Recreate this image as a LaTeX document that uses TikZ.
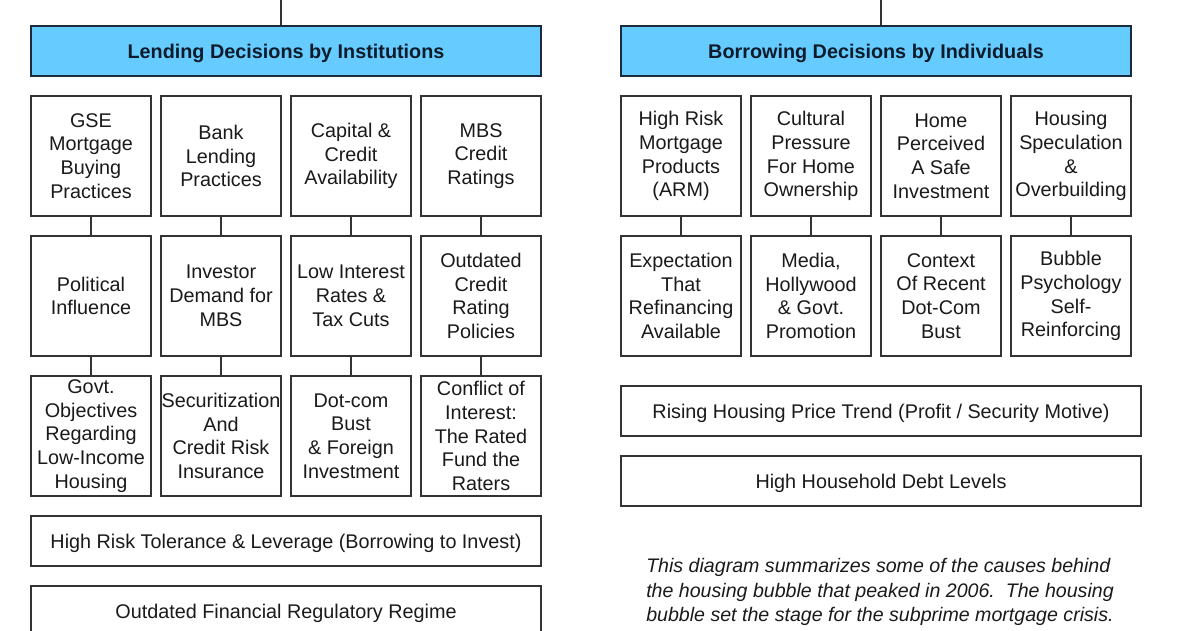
\documentclass[tikz,border=0pt]{standalone}
\usepackage{fontspec}
\setmainfont{Liberation Sans}
\definecolor{hdrfill}{HTML}{66CCFF}
\definecolor{hdrline}{HTML}{1C2B3A}
\definecolor{hdrtext}{HTML}{0D1B2A}
\definecolor{boxline}{HTML}{333333}
\definecolor{txt}{HTML}{1A1A1A}
\begin{document}
\begin{tikzpicture}[x=1pt,y=-1pt,
  cell/.style={draw=boxline,line width=1.3pt,fill=white,minimum width=120pt,minimum height=120pt,inner sep=0pt,align=center,text=txt,font=\fontsize{19.8}{23.8}\selectfont},
  wide/.style={draw=boxline,line width=1.3pt,fill=white,minimum height=50pt,inner sep=0pt,align=center,text=txt,text height=14.2pt,text depth=0pt,font=\fontsize{19.8}{23.8}\selectfont},
  hdr/.style={draw=hdrline,line width=1.3pt,fill=hdrfill,minimum width=510pt,minimum height=50pt,inner sep=0pt,text=hdrtext,text height=14.2pt,text depth=0pt,font=\fontsize{19.8}{23}\selectfont\bfseries},
  link/.style={draw=boxline,line width=1.2pt}]
\useasboundingbox (0,0) rectangle (1200,630);
% headers
\node[hdr] (hL) at (286,51) {Lending Decisions by Institutions};
\node[hdr] (hR) at (876,51) {Borrowing Decisions by Individuals};
\coordinate (tL) at (281,0);
\coordinate (tR) at (881,0);
\draw[link] (tL) -- (tL |- hL.north);
\draw[link] (tR) -- (tR |- hR.north);
% left grid
\node[cell] (a1) at (91,156) {GSE\\Mortgage\\Buying\\Practices};
\node[cell] (b1) at (221,156) {Bank\\Lending\\Practices};
\node[cell] (c1) at (351,156) {Capital \&\\Credit\\Availability};
\node[cell] (d1) at (481,156) {MBS\\Credit\\Ratings};
\node[cell] (a2) at (91,296) {Political\\Influence};
\node[cell] (b2) at (221,296) {Investor\\Demand for\\MBS};
\node[cell] (c2) at (351,296) {Low Interest\\Rates \&\\Tax Cuts};
\node[cell] (d2) at (481,296) {Outdated\\Credit\\Rating\\Policies};
\node[cell] (a3) at (91,436) {Govt.\\Objectives\\Regarding\\Low-Income\\Housing};
\node[cell] (b3) at (221,436) {Securitization\\And\\Credit Risk\\Insurance};
\node[cell] (c3) at (351,436) {Dot-com\\Bust\\\& Foreign\\Investment};
\node[cell] (d3) at (481,436) {Conflict of\\Interest:\\The Rated\\Fund the\\Raters};
\foreach \c in {a,b,c,d}{
  \draw[link] (\c1.south) -- (\c2.north);
  \draw[link] (\c2.south) -- (\c3.north);
}
\node[wide,minimum width=510pt] (w1) at (286,541) {High Risk Tolerance \& Leverage (Borrowing to Invest)};
\node[wide,minimum width=510pt] (w2) at (286,611) {Outdated Financial Regulatory Regime};
% right grid
\node[cell] (e1) at (681,156) {High Risk\\Mortgage\\Products\\(ARM)};
\node[cell] (f1) at (811,156) {Cultural\\Pressure\\For Home\\Ownership};
\node[cell] (g1) at (941,156) {Home\\Perceived\\A Safe\\Investment};
\node[cell] (h1) at (1071,156) {Housing\\Speculation\\\&\\Overbuilding};
\node[cell] (e2) at (681,296) {Expectation\\That\\Refinancing\\Available};
\node[cell] (f2) at (811,296) {Media,\\Hollywood\\\& Govt.\\Promotion};
\node[cell] (g2) at (941,296) {Context\\Of Recent\\Dot-Com\\Bust};
\node[cell] (h2) at (1071,296) {Bubble\\Psychology\\Self-\\Reinforcing};
\foreach \c in {e,f,g,h}{
  \draw[link] (\c1.south) -- (\c2.north);
}
\node[wide,minimum width=520pt] (w3) at (881,411) {Rising Housing Price Trend (Profit / Security Motive)};
\node[wide,minimum width=520pt] (w4) at (881,481) {High Household Debt Levels};
\node[align=left,text=txt,inner sep=0pt,font=\fontsize{19.6}{24.5}\selectfont\itshape] (note) at (880,592) {This diagram summarizes some of the causes behind\\the housing bubble that peaked in 2006.\ \ The housing\\bubble set the stage for the subprime mortgage crisis.};
\end{tikzpicture}
\end{document}
